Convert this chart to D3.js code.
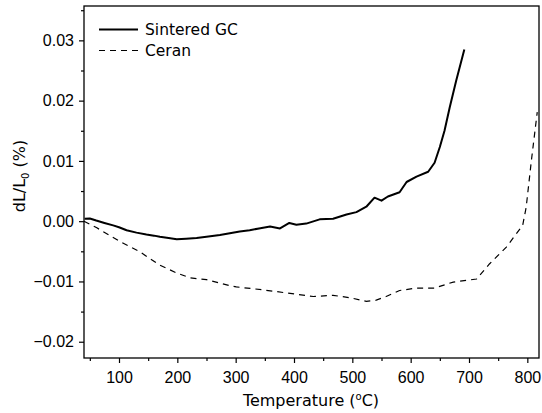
<!DOCTYPE html>
<html><head><meta charset="utf-8">
<script src="https://cdn.jsdelivr.net/npm/d3@7"></script>
<style>body{margin:0;background:#fff}</style>
</head><body>
<svg id="c" width="542" height="413"></svg>
<script>
const gcT = [41,50,61,75,90,100,113,130,147,160,170,185,199,215,233,250,273,290,307,324,340,359,376,392,404,421,444,467,490,507,524,538,550,561,581,593,610,630,641,650,658,667,678,692];
const gcV = [0.0004,0.00045,0.0001,-0.0003,-0.0007,-0.0010,-0.0015,-0.0019,-0.0022,-0.0024,-0.0026,-0.0028,-0.0030,-0.0029,-0.0028,-0.0026,-0.0023,-0.0020,-0.0017,-0.0015,-0.0012,-0.0009,-0.0012,-0.0003,-0.0006,-0.0004,0.0003,0.0004,0.0011,0.0015,0.0024,0.0039,0.0034,0.0041,0.0048,0.0065,0.0074,0.0082,0.0097,0.0123,0.0150,0.0189,0.0233,0.0285];
const ceT = [40,62,102,136,170,199,222,250,290,301,347,387,433,467,496,524,541,558,581,610,641,673,713,735,764,792,798,807,817];
const ceV = [0.0,-0.0011,-0.0034,-0.0051,-0.0073,-0.0086,-0.0094,-0.0097,-0.0107,-0.0109,-0.0114,-0.0119,-0.0125,-0.0123,-0.0127,-0.0133,-0.0131,-0.0125,-0.0115,-0.0111,-0.0111,-0.0101,-0.0096,-0.0071,-0.0043,-0.0007,0.0023,0.0101,0.0181];
const xTicks = [100,200,300,400,500,600,700,800];
const yTicks = [-0.02,-0.01,0.00,0.01,0.02,0.03];
const seriesNames = ["Sintered GC","Ceran"];

const svg = d3.select("#c");
const L=84, R=539, T=6, B=358;
const x = d3.scaleLinear().domain([40,820]).range([L,R]);
const y = d3.scaleLinear().domain([-0.0227,0.0357]).range([B,T]);

svg.append("rect").attr("x",L).attr("y",T).attr("width",R-L).attr("height",B-T)
  .attr("fill","none").attr("stroke","#000").attr("stroke-width",1.3);

const tickFont = "'Liberation Sans', Arial, sans-serif";
const gx = svg.append("g").attr("transform",`translate(0,${B})`);
gx.call(d3.axisBottom(x).tickValues(d3.range(50,801,50)).tickSize(5).tickFormat(""))
  .call(g=>g.select(".domain").remove());
gx.selectAll(".tick").filter(d=>d%100!==0).select("line").attr("y2",3);
gx.selectAll("line").attr("stroke-width",1.2);
const gx2 = svg.append("g").attr("transform",`translate(0,${B})`);
gx2.call(d3.axisBottom(x).tickValues(xTicks).tickSize(0).tickPadding(14).tickFormat(d3.format("d")))
  .call(g=>g.select(".domain").remove());
gx2.selectAll("text").attr("font-family",tickFont).attr("font-size",16).attr("fill","#000");

const gy = svg.append("g").attr("transform",`translate(${L},0)`);
gy.call(d3.axisLeft(y).tickValues(d3.range(-0.02,0.0351,0.005)).tickSize(5).tickFormat(""))
  .call(g=>g.select(".domain").remove());
gy.selectAll(".tick").filter(d=>Math.abs(Math.round(d*1000))%10!==0).select("line").attr("x2",-3);
gy.selectAll("line").attr("stroke-width",1.2);
const gy2 = svg.append("g").attr("transform",`translate(${L},0)`);
gy2.call(d3.axisLeft(y).tickValues(yTicks).tickSize(0).tickPadding(10).tickFormat(d3.format(".2f")))
  .call(g=>g.select(".domain").remove());
gy2.selectAll("text").attr("font-family",tickFont).attr("font-size",16).attr("fill","#000");

const line = d3.line().x(d=>x(d[0])).y(d=>y(d[1]));
svg.append("path").datum(gcT.map((t,i)=>[t,gcV[i]])).attr("d",line)
  .attr("fill","none").attr("stroke","#000").attr("stroke-width",2).attr("stroke-linejoin","round");
svg.append("path").datum(ceT.map((t,i)=>[t,ceV[i]])).attr("d",line)
  .attr("fill","none").attr("stroke","#000").attr("stroke-width",1.2).attr("stroke-dasharray","6,5");

const lf = "'DejaVu Sans', Verdana, sans-serif";
svg.append("line").attr("x1",99).attr("x2",138).attr("y1",29.5).attr("y2",29.5).attr("stroke","#000").attr("stroke-width",2);
svg.append("text").attr("x",145).attr("y",35).attr("font-family",lf).attr("font-size",15.5).text(seriesNames[0]);
svg.append("line").attr("x1",99).attr("x2",138).attr("y1",50.5).attr("y2",50.5).attr("stroke","#000").attr("stroke-width",1.2).attr("stroke-dasharray","6,5");
svg.append("text").attr("x",145).attr("y",56).attr("font-family",lf).attr("font-size",15.5).text(seriesNames[1]);

const xt = svg.append("text").attr("x",311).attr("y",406).attr("text-anchor","middle")
  .attr("font-family",lf).attr("font-size",16);
xt.append("tspan").text("Temperature (");
xt.append("tspan").attr("dy",-6).attr("font-size",10).text("o");
xt.append("tspan").attr("dy",6).text("C)");
const yt = svg.append("text").attr("transform","translate(25,176) rotate(-90)").attr("text-anchor","middle")
  .attr("font-family",lf).attr("font-size",16);
yt.append("tspan").text("dL/L");
yt.append("tspan").attr("dy",4).attr("font-size",10).text("0");
yt.append("tspan").attr("dy",-4).text(" (%)");
</script>
</body></html>
